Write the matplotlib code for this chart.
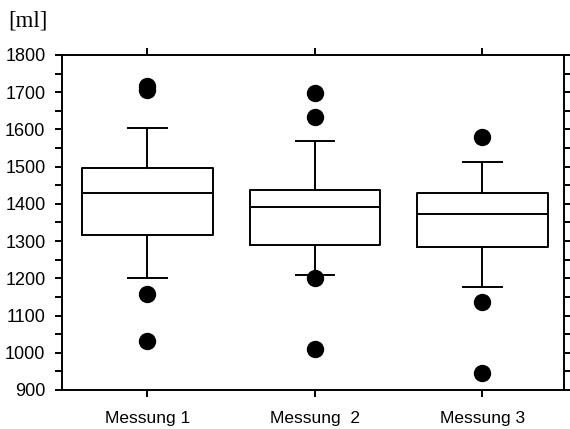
import matplotlib
matplotlib.use("Agg")
import matplotlib.pyplot as plt
from matplotlib.ticker import MultipleLocator

# Box statistics (ml)
labels = ["Messung 1", "Messung  2", "Messung 3"]
q1 = [1316, 1290, 1284]
med = [1428, 1392, 1373]
q3 = [1495, 1437, 1430]
whislo = [1202, 1208, 1176]
whishi = [1605, 1570, 1513]
fliers = [
    [1705, 1716, 1157, 1032],
    [1697, 1632, 1200, 1009],
    [1579, 1136, 945],
]

stats = []
for i in range(len(labels)):
    stats.append({
        "label": labels[i],
        "q1": q1[i], "med": med[i], "q3": q3[i],
        "whislo": whislo[i], "whishi": whishi[i],
        "fliers": fliers[i],
    })

plt.rcParams["font.family"] = ["Liberation Sans", "DejaVu Sans"]

fig = plt.figure(figsize=(5.7, 4.29), dpi=100)
ax = fig.add_axes([0.109, 0.091, 0.881, 0.781])

lw = 1.4
ax.bxp(stats, positions=[1, 2, 3], widths=0.78, capwidths=0.23,
       boxprops=dict(color="black", linewidth=lw),
       medianprops=dict(color="black", linewidth=lw),
       whiskerprops=dict(color="black", linewidth=lw),
       capprops=dict(color="black", linewidth=lw),
       flierprops=dict(marker="o", markerfacecolor="black",
                       markeredgecolor="black", markersize=11.5))

ax.set_xlim(0.49, 3.49)
ax.set_ylim(900, 1800)
ax.yaxis.set_major_locator(MultipleLocator(100))
ax.yaxis.set_minor_locator(MultipleLocator(50))

for s in ax.spines.values():
    s.set_linewidth(lw)

ax.tick_params(axis="y", which="both", direction="out", right=True,
               labelsize=13, width=lw, length=5, pad=7)
ax.tick_params(axis="x", which="both", direction="out", top=True,
               labelsize=12.5, width=lw, length=5, pad=10)

fig.text(0.014, 0.952, "[ml]", fontsize=16.5, family="Liberation Serif",
         va="center", ha="left")

fig.savefig("out.png", dpi=100)
